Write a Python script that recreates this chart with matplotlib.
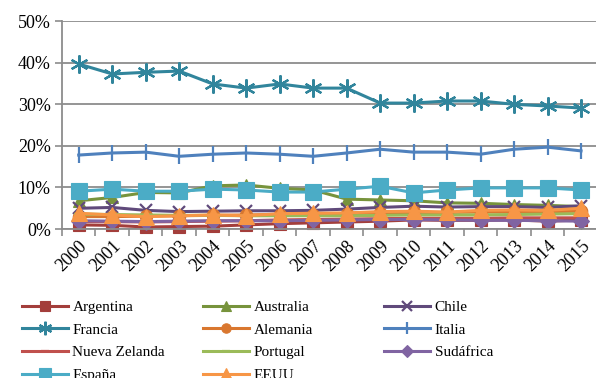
import matplotlib
matplotlib.use("Agg")
import matplotlib.pyplot as plt
from matplotlib.ticker import FixedLocator, PercentFormatter

plt.rcParams['font.family'] = 'serif'
plt.rcParams['font.serif'] = ['Liberation Serif', 'DejaVu Serif']

years = [str(y) for y in range(2000, 2016)]

# share of each country (%)
argentina = [1.0, 0.9, 0.5, 0.6, 0.7, 1.0, 1.3, 1.5, 1.7, 1.9, 2.2, 2.1, 2.1, 2.2, 1.9, 2.2]
australia = [6.8, 7.6, 8.8, 8.7, 10.4, 10.6, 9.8, 9.4, 7.2, 7.0, 6.8, 6.3, 6.2, 5.9, 5.7, 5.4]
chile = [5.0, 5.2, 4.5, 4.2, 4.3, 4.4, 4.4, 4.5, 4.8, 5.2, 5.5, 5.3, 5.4, 5.4, 5.2, 5.6]
francia = [39.7, 37.3, 37.7, 38.0, 34.9, 33.9, 34.9, 33.9, 33.9, 30.3, 30.3, 30.8, 30.8, 30.0, 29.6, 29.1]
alemania = [3.0, 3.0, 3.1, 3.2, 3.3, 3.4, 3.5, 3.5, 3.7, 3.8, 4.0, 4.0, 4.1, 4.1, 4.2, 4.3]
italia = [17.8, 18.3, 18.5, 17.5, 18.0, 18.3, 18.0, 17.5, 18.3, 19.2, 18.5, 18.5, 18.0, 19.2, 19.7, 18.8]
nueva_zelanda = [1.8, 1.8, 1.7, 1.8, 1.9, 2.0, 2.2, 2.3, 2.4, 2.5, 2.6, 2.6, 2.6, 2.7, 2.7, 2.7]
portugal = [3.6, 3.5, 3.4, 3.3, 3.3, 3.2, 3.2, 3.2, 3.2, 3.3, 3.4, 3.4, 3.4, 3.5, 3.6, 3.7]
sudafrica = [2.0, 1.9, 1.8, 1.9, 2.0, 2.0, 2.0, 2.1, 2.2, 2.3, 2.3, 2.2, 2.1, 2.1, 2.0, 1.9]
espana = [9.1, 9.6, 9.1, 9.1, 9.6, 9.4, 8.9, 8.9, 9.6, 10.3, 8.7, 9.4, 9.9, 9.9, 9.9, 9.4]
eeuu = [3.8, 3.4, 3.0, 3.2, 3.4, 3.2, 3.7, 3.8, 3.9, 4.2, 4.3, 4.1, 4.5, 4.6, 4.5, 5.0]

series = [
    ("Argentina", argentina, "#A33E3B", "s", 9),
    ("Australia", australia, "#77933C", "^", 9),
    ("Chile", chile, "#604A7B", "x", 9),
    ("Francia", francia, "#31859C", (6, 2, 0), 13),
    ("Alemania", alemania, "#D9772F", "o", 9),
    ("Italia", italia, "#4F81BD", "|", 12),
    ("Nueva Zelanda", nueva_zelanda, "#C0504D", "_", 7),
    ("Portugal", portugal, "#9BBB59", "_", 7),
    ("Sudáfrica", sudafrica, "#8064A2", "D", 8),
    ("España", espana, "#4BACC6", "s", 12),
    ("EEUU", eeuu, "#F79646", "^", 12),
]

fig = plt.figure(figsize=(5.96, 3.78), dpi=100)
ax = fig.add_axes([0.104, 0.394, 0.899, 0.550])

x = list(range(len(years)))
handles = {}
for name, vals, color, marker, ms in series:
    line, = ax.plot(x, vals, color=color, lw=2.2, marker=marker, markersize=ms,
                    markeredgewidth=1.6 if marker in ("x", "|", "_", (6, 2, 0)) else 0.8,
                    markeredgecolor=color, markerfacecolor=color, label=name,
                    solid_joinstyle="round", clip_on=False)
    handles[name] = line

ax.set_xlim(-0.5, len(years) - 0.5)
ax.set_ylim(0, 50)
ax.yaxis.set_major_locator(FixedLocator([0, 10, 20, 30, 40, 50]))
ax.yaxis.set_major_formatter(PercentFormatter(decimals=0))
ax.grid(axis="y", color="#8C8C8C", lw=1.3)
ax.set_axisbelow(True)

ax.set_xticks(x)
ax.set_xticklabels(years, rotation=45, ha="right", va="top", rotation_mode="anchor")
ax.set_xticks([i - 0.5 for i in range(len(years) + 1)], minor=True)
ax.tick_params(axis="x", which="major", length=0, labelsize=13, pad=6)
ax.tick_params(axis="x", which="minor", length=5, color="#8C8C8C", width=1.2)
ax.tick_params(axis="y", length=5, color="#8C8C8C", width=1.2, labelsize=13, pad=3)

for side in ("top", "right"):
    ax.spines[side].set_visible(False)
for side in ("left", "bottom"):
    ax.spines[side].set_color("#8C8C8C")
    ax.spines[side].set_linewidth(1.3)

# one legend per column so each column sits at its own x
columns = [
    (0.037, ["Argentina", "Francia", "Nueva Zelanda", "España"]),
    (0.341, ["Australia", "Alemania", "Portugal", "EEUU"]),
    (0.645, ["Chile", "Italia", "Sudáfrica"]),
]
for x0, names in columns:
    leg = fig.legend([handles[n] for n in names], names, loc="upper left",
                     bbox_to_anchor=(x0, 0.205), frameon=False, fontsize=11,
                     handlelength=3.0, handletextpad=0.3, labelspacing=0.58,
                     markerscale=0.75, borderaxespad=0, borderpad=0)

fig.savefig("out.png", dpi=100)
